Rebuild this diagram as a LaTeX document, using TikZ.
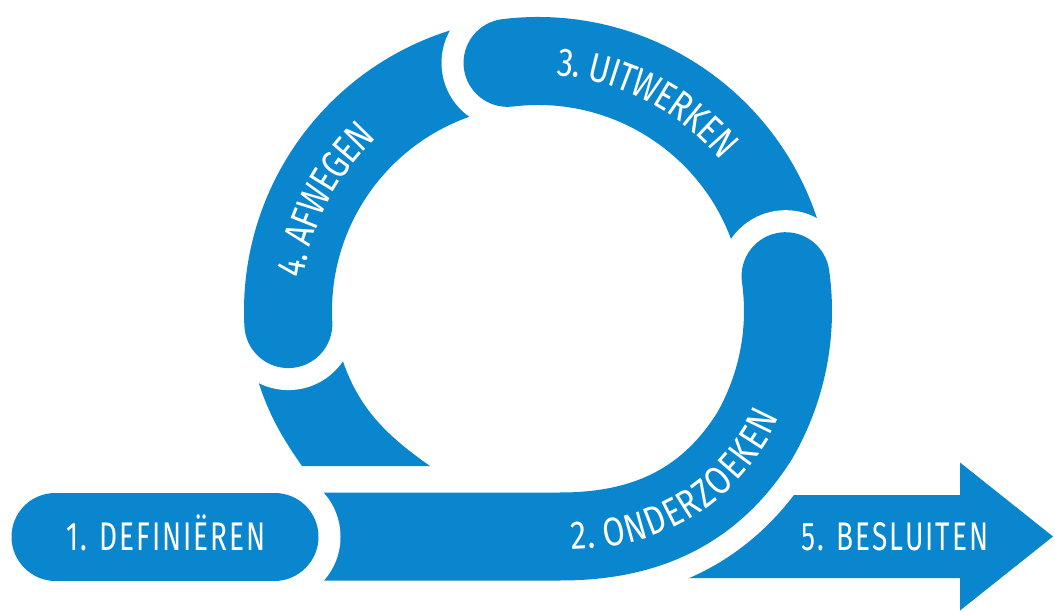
\documentclass[tikz,border=0pt]{standalone}
\usepackage{fontspec}
\newfontfamily\stepfont[FakeStretch=0.7, LetterSpace=5]{Fira Sans}
\newfontfamily\arcfont[FakeStretch=0.8]{Fira Sans}
\usetikzlibrary{decorations.text}
\definecolor{stepblue}{RGB}{10,134,207}
\newcommand{\bandfont}{\stepfont\fontsize{40}{40}\selectfont}
\newcommand{\arcbandfont}{\arcfont\fontsize{40}{40}\selectfont}
\tikzset{
  band/.style = {draw = stepblue, line width = 88pt, line cap = round,
    preaction = {draw = white, line width = 132pt, line cap = round}},
  steptext/.style = {text = white, font = \bandfont, text height = 27pt, text depth = 0pt},
  bandtext/.style = {decorate, decoration = {text along path, text color = white,
    text align = center, raise = -13.5pt, text = {|\arcbandfont|#1}}}
}

\begin{document}
\begin{tikzpicture}[x = 1pt, y = 1pt]
\useasboundingbox (0, 0) rectangle (1055, 611);
\fill[stepblue] (600, 33) -- (960, 33) -- (960, 0.5) -- (1053, 74.5) --
	(960, 148.5) -- (960, 116) -- (600, 116) -- cycle;
\fill[stepblue] (252, 251) to[out = -75, in = 125] (302, 145) --
	(430, 145) to[out = 145, in = -75] (338, 266) -- cycle;
\begin{scope}[shift = {(538, 300)}]
\draw[band] (183:250) arc[start angle = 183, end angle = 104, radius = 250];
\draw[band] (97:250) arc[start angle = 97, end angle = 15, radius = 250];
\end{scope}
\draw[band] (315, 74.5) -- (560, 74.5) .. controls (642, 74.5) and (708, 101.4) ..
	(754.5, 175) arc[start angle = -30, end angle = 8, radius = 250];
\draw[band] (55.5, 74.5) -- (274.5, 74.5);
\node[steptext] (definieren) at (166, 74.5) {1. DEFINIËREN};
\node[steptext] (besluiten) at (895, 74.5) {5. BESLUITEN};
\path[bandtext = {2. ONDERZOEKEN}] (560, 74.5) .. controls (642, 74.5) and (708, 101.4) ..
	(754.5, 175) arc[start angle = -30, end angle = -21, radius = 250];
\begin{scope}[shift = {(538, 300)}]
\path[bandtext = {3. UITWERKEN}] (97:250) arc[start angle = 97, end angle = 28, radius = 250];
\path[bandtext = {4. AFWEGEN}] (185:250) arc[start angle = 185, end angle = 120, radius = 250];
\end{scope}
\end{tikzpicture}
\end{document}
